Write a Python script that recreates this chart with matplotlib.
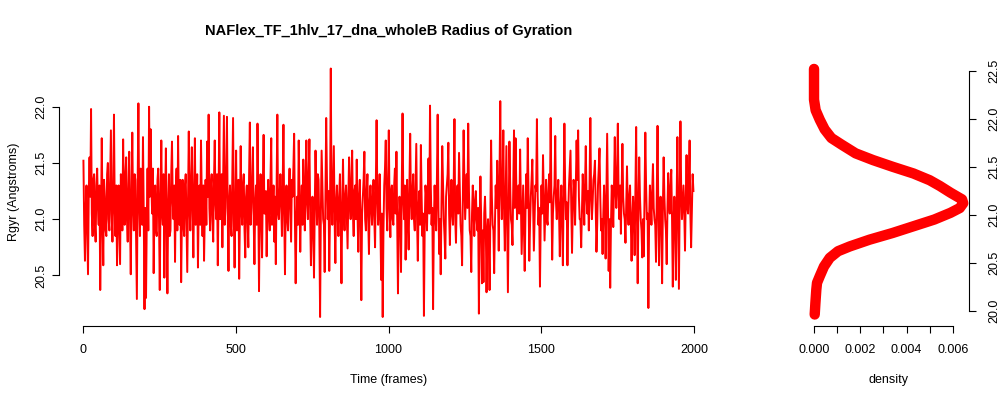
import numpy as np
import matplotlib
matplotlib.use("Agg")
import matplotlib.pyplot as plt

plt.rcParams['font.family'] = ['Liberation Sans', 'DejaVu Sans']

# Rgyr every 5 frames (frames 1, 6, 11, ...)
rgyr_peaks = [
    21.52, 20.63, 21.30, 20.51, 21.55, 21.98, 20.85, 21.40, 20.80, 21.45,
    20.95, 20.37, 21.72, 20.59, 21.20, 20.85, 21.50, 20.90, 21.79, 20.80,
    21.93, 20.85, 20.59, 21.30, 20.60, 21.25, 21.71, 20.95, 21.55, 20.80,
    21.60, 20.51, 21.77, 20.90, 21.35, 20.29, 22.03, 20.85, 21.30, 21.73,
    20.20, 20.30, 21.45, 22.00, 21.80, 21.05, 20.52, 21.30, 20.85, 21.45,
    20.37, 21.70, 20.95, 20.48, 21.63, 20.34, 21.40, 20.90, 21.69, 21.00,
    20.62, 21.45, 21.74, 20.95, 20.44, 21.35, 20.85, 21.40, 20.53, 21.78,
    20.90, 21.64, 20.66, 21.72, 21.00, 20.57, 21.30, 21.70, 20.85, 20.63,
    21.35, 21.69, 21.93, 20.90, 21.40, 20.80, 21.70, 21.00, 20.59, 21.95,
    21.05, 20.75, 21.92, 21.10, 21.91, 20.54, 21.30, 20.85, 21.90, 20.57,
    21.61, 21.00, 20.47, 21.65, 20.95, 21.40, 20.66, 21.30, 20.75, 21.86,
    21.10, 21.64, 20.60, 21.30, 21.85, 20.36, 21.40, 20.66, 21.75, 21.05,
    20.67, 21.35, 20.90, 21.72, 21.05, 20.80, 20.60, 21.93, 21.00, 21.40,
    20.85, 21.84, 20.51, 21.30, 20.90, 21.45, 20.80, 21.20, 21.76, 20.43,
    21.20, 21.70, 20.71, 21.30, 21.53, 20.90, 21.70, 21.00, 21.71, 20.59,
    21.20, 20.48, 21.61, 20.95, 21.35, 20.13, 21.61, 21.00, 20.53, 21.90,
    21.00, 20.54, 22.34, 20.95, 21.65, 20.61, 21.30, 20.85, 21.40, 20.43,
    21.53, 20.90, 21.30, 20.74, 21.55, 21.00, 21.61, 20.85, 21.30, 21.53,
    20.71, 21.35, 20.28, 21.20, 21.60, 20.90, 21.40, 20.69, 21.30, 20.95,
    21.35, 20.75, 21.88, 20.95, 21.40, 20.46, 20.13, 21.30, 21.70, 20.90,
    21.79, 20.84, 21.30, 20.95, 21.45, 21.60, 20.34, 21.20, 20.53, 21.94,
    21.00, 20.64, 21.35, 20.73, 21.76, 21.00, 21.40, 20.90, 21.67, 20.63,
    21.25, 21.66, 20.85, 20.14, 21.30, 20.90, 21.54, 22.01, 20.95, 20.20,
    21.30, 20.90, 21.93, 20.69, 20.51, 21.65, 21.00, 20.65, 21.30, 21.68,
    20.77, 21.35, 20.95, 21.89, 20.79, 21.30, 21.59, 20.95, 20.59, 21.79,
    21.00, 21.40, 21.85, 20.90, 20.53, 21.30, 20.85, 21.25, 20.90, 20.16,
    21.38, 20.43, 20.44, 21.20, 20.35, 21.00, 20.37, 21.70, 20.95, 20.52,
    21.30, 21.52, 20.72, 22.05, 21.00, 21.79, 20.72, 21.65, 20.35, 21.69,
    21.00, 20.77, 21.79, 21.72, 21.00, 21.30, 21.62, 20.69, 21.30, 20.54,
    21.40, 21.72, 20.63, 21.20, 21.53, 20.72, 21.30, 21.89, 20.95, 20.40,
    21.30, 21.57, 20.81, 21.35, 20.95, 21.40, 21.90, 20.64, 21.20, 21.74,
    21.00, 21.35, 20.67, 21.30, 20.59, 21.85, 21.00, 20.59, 21.30, 21.61,
    20.70, 21.35, 20.95, 21.70, 21.79, 21.00, 20.75, 21.40, 20.95, 21.65,
    21.05, 20.90, 21.90, 21.00, 21.35, 21.52, 20.71, 21.30, 21.63, 20.90,
    20.69, 21.30, 20.65, 21.76, 20.54, 20.39, 21.30, 20.93, 21.73, 21.10,
    21.85, 21.00, 20.87, 21.67, 21.05, 20.79, 21.47, 20.95, 21.30, 20.63,
    21.20, 20.68, 21.82, 20.43, 21.55, 21.00, 20.66, 20.67, 21.77, 21.00,
    20.21, 21.30, 20.95, 21.49, 21.00, 20.62, 21.83, 20.59, 21.20, 20.43,
    21.55, 21.00, 20.60, 21.41, 21.05, 21.44, 20.40, 21.20, 20.46, 21.73,
    20.38, 21.87, 21.00, 21.30, 20.72, 21.57, 21.05, 21.70, 20.75, 21.40,
]

# values inside the dense band, frames 3.5, 8.5, 13.5, ...
rgyr_band = [
    20.95, 21.10, 20.90, 21.25, 21.20, 21.05, 21.35, 20.95, 21.30, 21.10,
    21.30, 20.95, 21.05, 21.35, 20.90, 21.40, 21.00, 21.35, 21.05, 21.20,
    21.10, 21.30, 21.00, 20.95, 21.40, 20.90, 21.20, 21.40, 21.00, 21.25,
    21.00, 21.20, 21.10, 21.40, 20.85, 21.30, 21.15, 21.45, 20.95, 21.05,
    21.10, 21.00, 20.90, 21.20, 21.30, 21.45, 21.10, 20.90, 21.35, 21.00,
    21.20, 21.05, 21.40, 21.15, 20.95, 21.10, 20.85, 21.40, 21.15, 21.30,
    21.25, 20.90, 21.10, 21.35, 21.00, 20.95, 21.30, 20.95, 21.20, 21.10,
    21.35, 21.05, 21.25, 20.95, 21.40, 21.10, 20.95, 21.20, 21.30, 21.05,
    20.95, 21.20, 21.10, 21.30, 21.00, 21.35, 21.15, 21.40, 21.20, 21.00,
    21.40, 21.30, 20.95, 21.45, 21.05, 21.15, 20.95, 21.35, 21.00, 21.10,
    20.90, 21.35, 21.05, 21.10, 21.30, 20.90, 21.20, 21.00, 21.40, 20.95,
    21.35, 21.00, 21.15, 20.95, 21.20, 21.10, 21.00, 21.30, 21.05, 21.25,
    21.10, 21.05, 21.35, 20.95, 21.30, 21.20, 21.25, 21.05, 21.20, 21.15,
    21.30, 21.05, 21.15, 21.00, 21.25, 21.10, 21.35, 21.45, 21.00, 20.95,
    20.95, 21.20, 21.10, 20.95, 21.25, 21.30, 21.15, 21.40, 21.05, 20.90,
    21.00, 21.10, 21.25, 21.40, 20.90, 21.05, 21.30, 20.95, 21.20, 21.35,
    21.25, 21.05, 21.20, 21.30, 21.00, 21.15, 21.05, 21.20, 20.95, 21.10,
    21.10, 21.20, 21.00, 21.20, 21.15, 21.35, 21.05, 21.25, 21.00, 21.05,
    21.20, 20.95, 21.05, 21.35, 21.00, 21.25, 21.00, 21.15, 21.10, 21.20,
    21.00, 21.30, 21.20, 21.10, 20.95, 21.05, 20.90, 21.45, 21.10, 21.30,
    21.10, 21.25, 21.00, 21.30, 21.05, 21.00, 20.95, 21.05, 21.30, 21.20,
    21.30, 21.05, 20.95, 21.30, 21.15, 21.25, 21.00, 21.30, 21.00, 21.10,
    20.95, 21.20, 21.05, 20.90, 21.20, 21.25, 21.05, 21.30, 21.10, 20.95,
    21.05, 21.35, 21.10, 21.00, 21.15, 21.30, 20.85, 21.20, 21.40, 21.05,
    21.15, 21.05, 21.30, 21.00, 21.20, 21.05, 21.25, 20.85, 21.20, 21.35,
    21.20, 21.10, 21.25, 20.85, 21.05, 21.10, 21.15, 21.00, 21.10, 20.95,
    21.00, 20.90, 21.05, 20.95, 20.85, 20.80, 21.05, 21.20, 20.90, 20.95,
    21.10, 21.20, 21.35, 21.30, 21.25, 21.05, 21.20, 20.95, 21.05, 21.30,
    20.95, 21.25, 21.10, 21.30, 21.20, 21.05, 21.15, 21.00, 20.90, 21.05,
    21.10, 21.25, 20.95, 21.35, 21.10, 21.00, 21.25, 21.20, 21.10, 21.00,
    21.05, 21.20, 21.10, 21.00, 21.25, 21.15, 21.20, 21.05, 21.30, 21.15,
    21.20, 21.05, 21.10, 21.00, 21.20, 21.30, 21.15, 21.05, 21.45, 21.10,
    21.10, 21.25, 21.30, 21.35, 21.20, 21.00, 21.10, 21.20, 21.30, 21.20,
    21.25, 21.35, 21.20, 21.15, 21.40, 21.10, 20.95, 21.45, 21.20, 21.00,
    21.05, 21.10, 21.20, 21.15, 21.00, 20.95, 21.20, 21.30, 21.25, 21.40,
    21.20, 21.30, 21.25, 21.20, 21.00, 21.15, 21.10, 21.20, 20.95, 21.00,
    21.00, 21.25, 21.05, 21.10, 21.20, 20.90, 21.00, 21.20, 21.30, 21.05,
    21.00, 21.15, 21.25, 21.10, 20.95, 21.20, 21.10, 21.05, 20.95, 21.10,
    21.20, 20.90, 21.10, 21.15, 21.30, 21.00, 20.95, 21.00, 21.15, 21.05,
    21.10, 21.25, 21.15, 21.05, 21.20, 21.10, 21.35, 21.05, 21.10, 21.25,
]

frames = np.arange(1, 2001, 2.5)
rgyr = np.column_stack([rgyr_peaks, rgyr_band]).ravel()

# density curve (value, density)
dens_val = [22.52, 22.30, 22.20, 22.09, 21.99, 21.89, 21.80, 21.73, 21.64, 21.57,
            21.50, 21.43, 21.36, 21.30, 21.23, 21.16, 21.12, 21.07, 21.02, 20.95,
            20.88, 20.81, 20.74, 20.67, 20.62, 20.55, 20.46, 20.36, 20.29, 20.22,
            20.08, 19.96]
dens = [0.0, 0.0, 0.0, 0.00007, 0.00025, 0.00046, 0.00075, 0.0012, 0.0018, 0.00255,
        0.0034, 0.0043, 0.0050, 0.00544, 0.0059, 0.0064, 0.00645, 0.0063, 0.0059, 0.0052,
        0.0043, 0.0034, 0.0024, 0.00155, 0.00104, 0.00068, 0.00043, 0.00025, 0.00013, 0.0001,
        0.00006, 0.00003]

title = "NAFlex_TF_1hlv_17_dna_wholeB Radius of Gyration"

fig = plt.figure(figsize=(10, 4), dpi=100)
ax = fig.add_axes([0.059, 0.185, 0.659, 0.669])
ax2 = fig.add_axes([0.808, 0.185, 0.161, 0.669])

ax.plot(frames, rgyr, color='#FF0000', lw=1.4)
ax.set_xlim(-79, 2079)
ax.set_ylim(20.05, 22.43)
ax.set_xticks([0, 500, 1000, 1500, 2000])
ax.set_yticks([20.5, 21.0, 21.5, 22.0])
ax.spines['top'].set_visible(False)
ax.spines['right'].set_visible(False)
ax.spines['bottom'].set_bounds(0, 2000)
ax.spines['left'].set_bounds(20.5, 22.0)
ax.tick_params(axis='x', pad=8)
ax.tick_params(axis='y', pad=3.5)
for lbl in ax.get_yticklabels():
    lbl.set_rotation(90)
    lbl.set_va('center')
ax.set_xlabel("Time (frames)", fontsize=9, labelpad=13)
ax.set_ylabel("Rgyr (Angstroms)", fontsize=9, labelpad=11)
ax.set_title(title, fontsize=10.5, fontweight='bold', pad=16.5)

ax2.plot(dens, dens_val, color='#FF0000', lw=7.5, solid_capstyle='round', solid_joinstyle='round')
ax2.set_xlim(-0.00026, 0.0067)
ax2.set_ylim(19.84, 22.63)
ax2.set_xticks([0, 0.001, 0.002, 0.003, 0.004, 0.005, 0.006])
ax2.set_xticklabels(["0.000", "", "0.002", "", "0.004", "", "0.006"])
ax2.set_yticks([20.0, 20.5, 21.0, 21.5, 22.0, 22.5])
ax2.yaxis.tick_right()
ax2.spines['top'].set_visible(False)
ax2.spines['left'].set_visible(False)
ax2.spines['bottom'].set_bounds(0, 0.006)
ax2.spines['right'].set_bounds(20.0, 22.5)
ax2.tick_params(axis='x', pad=8)
ax2.tick_params(axis='y', pad=8.4)
for lbl in ax2.get_yticklabels():
    lbl.set_rotation(90)
    lbl.set_va('center')
ax2.set_xlabel("density", fontsize=9, labelpad=13)

for a in (ax, ax2):
    a.tick_params(length=5.2, width=0.8, labelsize=9)
    for s in a.spines.values():
        s.set_linewidth(0.8)

fig.savefig("out.png", dpi=100)
